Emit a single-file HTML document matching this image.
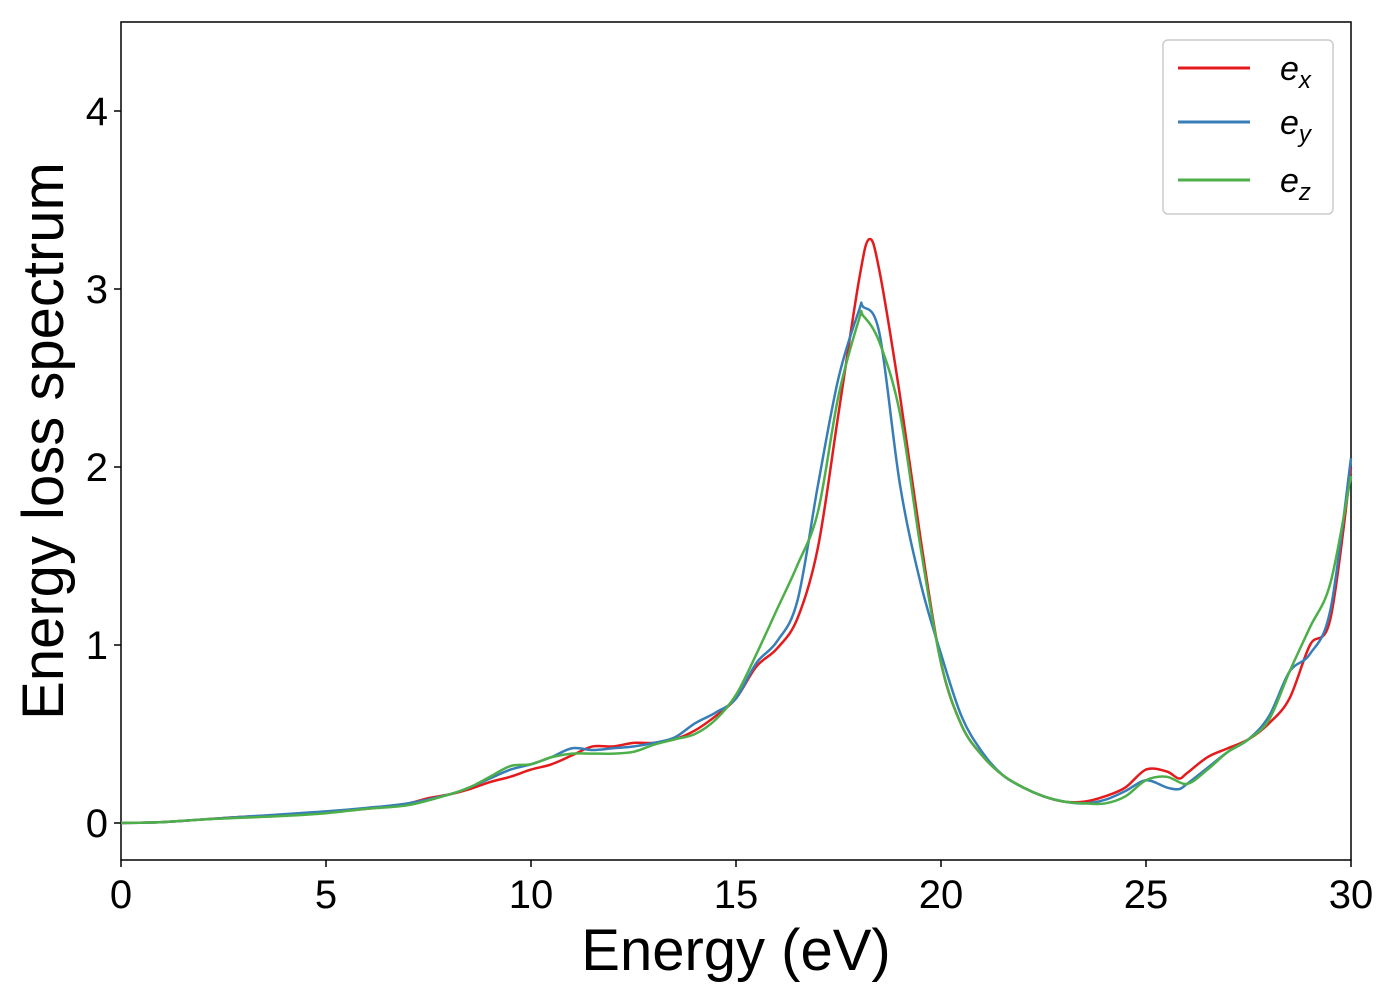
<!DOCTYPE html>
<html><head><meta charset="utf-8"><style>
body{margin:0;background:#fff;font-family:"Liberation Sans",sans-serif}
svg text{font-family:"Liberation Sans",sans-serif}
</style></head><body>
<svg width="1400" height="1000" xmlns="http://www.w3.org/2000/svg">
<rect x="121" y="22" width="1230" height="838" fill="#fff" stroke="#000" stroke-width="1.5"/>
<g id="ticks"></g>
<g id="series"></g>
<text x="736" y="970" font-size="58" text-anchor="middle">Energy (eV)</text>
<text transform="translate(63,441) rotate(-90)" font-size="58" text-anchor="middle">Energy loss spectrum</text>
<g>
<rect x="1163" y="40" width="170" height="174" rx="5" fill="#fff" stroke="#ccc" stroke-width="1.5"/>
<line x1="1178" y1="68" x2="1250" y2="68" stroke="#e41a1c" stroke-width="3"/>
<text x="1280" y="80" font-size="34" font-style="italic">e<tspan font-size="24" dy="8">x</tspan></text>
<line x1="1178" y1="122" x2="1250" y2="122" stroke="#377eb8" stroke-width="3"/>
<text x="1280" y="134" font-size="34" font-style="italic">e<tspan font-size="24" dy="8">y</tspan></text>
<line x1="1178" y1="180" x2="1250" y2="180" stroke="#4daf4a" stroke-width="3"/>
<text x="1280" y="192" font-size="34" font-style="italic">e<tspan font-size="24" dy="8">z</tspan></text>
</g>
</svg>
<script>
const xTicks=[0,5,10,15,20,25,30];
const yTicks=[0,1,2,3,4];
const exX=[0,1,2,3,4,5,6,7,7.5,8,8.5,9,9.5,10,10.5,11,11.5,12,12.5,13,13.5,14,14.5,15,15.5,16,16.5,17,17.5,18,18.25,18.5,19,19.5,20,20.5,21,21.5,22,22.5,23,23.5,24,24.5,25,25.5,25.8,26,26.5,27,27.5,28,28.5,29,29.5,30];
const exY=[0,0.005,0.02,0.035,0.045,0.06,0.08,0.11,0.14,0.16,0.19,0.23,0.26,0.3,0.33,0.38,0.43,0.43,0.45,0.45,0.47,0.52,0.6,0.7,0.88,0.98,1.15,1.55,2.3,3.05,3.28,3.1,2.4,1.6,0.9,0.55,0.38,0.27,0.2,0.15,0.12,0.12,0.15,0.2,0.3,0.29,0.25,0.28,0.37,0.42,0.47,0.56,0.7,1.0,1.15,2.0];
const eyX=[0,1,2,3,4,5,6,7,8,8.5,9,9.5,10,10.5,11,11.5,12,12.5,13,13.5,14,14.5,15,15.5,16,16.5,17,17.5,18,18.1,18.5,19,19.5,20,20.5,21,21.5,22,22.5,23,23.5,24,24.5,25,25.5,25.8,26,26.5,27,27.5,28,28.5,29,29.5,30];
const eyY=[0,0.005,0.02,0.035,0.05,0.065,0.085,0.11,0.16,0.2,0.25,0.3,0.33,0.37,0.42,0.41,0.42,0.43,0.45,0.48,0.56,0.62,0.7,0.9,1.02,1.25,1.9,2.5,2.88,2.9,2.75,1.9,1.35,0.95,0.6,0.4,0.27,0.2,0.15,0.12,0.11,0.13,0.18,0.24,0.2,0.19,0.22,0.31,0.4,0.47,0.6,0.85,0.95,1.2,2.05];
const ezX=[0,1,2,3,4,5,6,7,8,8.5,9,9.5,10,10.5,11,11.5,12,12.5,13,13.5,14,14.5,15,15.5,16,16.5,17,17.5,18,18.1,18.5,19,19.5,20,20.5,21,21.5,22,22.5,23,23.5,24,24.5,25,25.5,26,26.5,27,27.5,28,28.5,29,29.5,30];
const ezY=[0,0.005,0.02,0.03,0.04,0.055,0.08,0.1,0.16,0.2,0.26,0.32,0.33,0.37,0.39,0.39,0.39,0.4,0.44,0.47,0.5,0.58,0.72,0.95,1.2,1.45,1.75,2.4,2.83,2.85,2.7,2.3,1.55,0.9,0.55,0.38,0.27,0.2,0.15,0.12,0.11,0.11,0.15,0.24,0.26,0.22,0.3,0.4,0.47,0.58,0.85,1.1,1.35,1.95];
const NS="http://www.w3.org/2000/svg";
const xs=v=>121+v*41, ys=v=>823-v*178;
const tk=document.getElementById('ticks');
xTicks.forEach(t=>{
 const l=document.createElementNS(NS,'line');
 l.setAttribute('x1',xs(t));l.setAttribute('x2',xs(t));l.setAttribute('y1',860);l.setAttribute('y2',867);l.setAttribute('stroke','#000');l.setAttribute('stroke-width','1.5');
 
 
 tk.appendChild(l);
 const s=document.createElementNS(NS,'text');
 s.setAttribute('x',xs(t));s.setAttribute('y',908);s.setAttribute('font-size','40');s.setAttribute('text-anchor','middle');s.textContent=t;
 
 
 tk.appendChild(s);
});
yTicks.forEach(t=>{
 const l=document.createElementNS(NS,'line');
 l.setAttribute('x1',114);l.setAttribute('x2',121);l.setAttribute('y1',ys(t));l.setAttribute('y2',ys(t));l.setAttribute('stroke','#000');l.setAttribute('stroke-width','1.5');
 
 
 tk.appendChild(l);
 const s=document.createElementNS(NS,'text');
 s.setAttribute('x',108);s.setAttribute('y',ys(t)+14);s.setAttribute('font-size','40');s.setAttribute('text-anchor','end');s.textContent=t;
 
 
 tk.appendChild(s);
});
function path(X,Y){
 const p=X.map((x,i)=>[xs(x),ys(Y[i])]);
 let d='M'+p[0][0]+','+p[0][1];
 for(let i=0;i<p.length-1;i++){
  const p0=p[i-1]||p[i],p1=p[i],p2=p[i+1],p3=p[i+2]||p2;
  const c1=[p1[0]+(p2[0]-p0[0])/6,p1[1]+(p2[1]-p0[1])/6];
  const c2=[p2[0]-(p3[0]-p1[0])/6,p2[1]-(p3[1]-p1[1])/6];
  d+=`C${c1[0]},${c1[1]} ${c2[0]},${c2[1]} ${p2[0]},${p2[1]}`;
 }
 return d;
}
const g=document.getElementById('series');
[[exX,exY,'#e41a1c','series-ex'],[eyX,eyY,'#377eb8','series-ey'],[ezX,ezY,'#4daf4a','series-ez']].forEach(([X,Y,c,n])=>{
 const el=document.createElementNS(NS,'path');
 el.setAttribute('d',path(X,Y));el.setAttribute('fill','none');el.setAttribute('stroke',c);el.setAttribute('stroke-width','2.5');
 
 
 g.appendChild(el);
});
</script>
</body></html>
